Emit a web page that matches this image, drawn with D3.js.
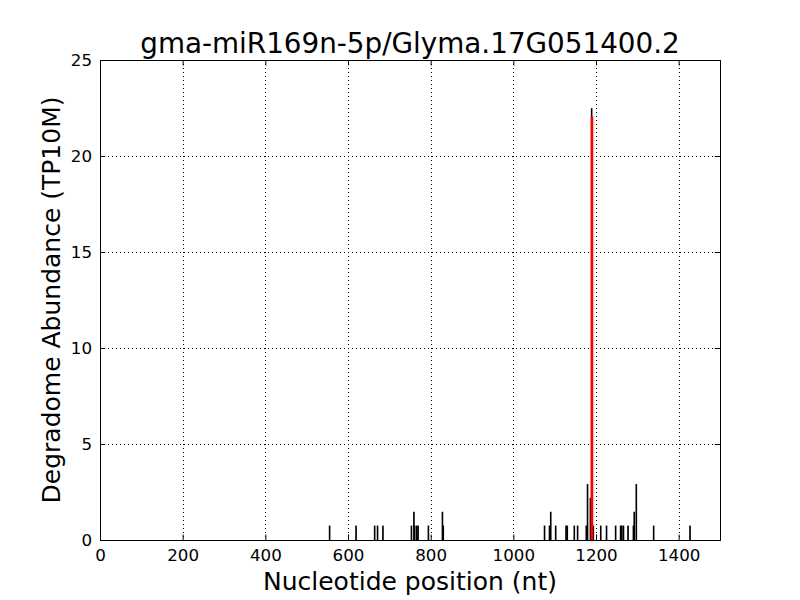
<!DOCTYPE html>
<html>
<head>
<meta charset="utf-8">
<script src="https://cdn.jsdelivr.net/npm/d3@7"></script>
<style>
  body { margin: 0; background: #fff; }
  svg { display: block; }
  text { font-family: "DejaVu Sans", sans-serif; fill: #000; }
</style>
</head>
<body>
<svg id="chart" width="800" height="600"></svg>
<script>
const title = "gma-miR169n-5p/Glyma.17G051400.2";
const xLabel = "Nucleotide position (nt)";
const yLabel = "Degradome Abundance (TP10M)";
const xTicks = [0, 200, 400, 600, 800, 1000, 1200, 1400];
const yTicks = [0, 5, 10, 15, 20, 25];

// black bars: positions and abundances
const positions = [555, 619, 664, 671, 684, 753, 759, 761, 766, 769, 794, 828, 830,
  1075, 1087, 1090, 1102, 1127, 1130, 1147, 1155, 1176, 1179, 1186, 1189, 1193,
  1211, 1225, 1247, 1259, 1262, 1266, 1277, 1290, 1292, 1297, 1339, 1427];
const abundances = [0.72, 0.72, 0.72, 0.72, 0.72, 0.72, 1.44, 0.72, 0.72, 0.72, 0.72, 1.44, 0.72,
  0.72, 0.72, 1.44, 0.72, 0.72, 0.72, 0.72, 0.72, 0.72, 2.88, 2.16, 22.46, 0.72,
  0.72, 0.72, 0.72, 0.72, 0.72, 0.72, 0.72, 0.72, 1.44, 2.88, 0.72, 0.72];
// highlighted cleavage site
const sitePositions = [1189];
const siteAbundances = [22.0];

const svg = d3.select("#chart");
const m = { left: 100, top: 60, right: 720, bottom: 540 };
const x = d3.scaleLinear().domain([0, 1500]).range([m.left, m.right]);
const y = d3.scaleLinear().domain([0, 25]).range([m.bottom, m.top]);

// grid
const grid = svg.append("g");
grid.selectAll("line.gx").data(xTicks.slice(1)).enter().append("line")
  .attr("x1", d => Math.round(x(d)) + 0.5).attr("x2", d => Math.round(x(d)) + 0.5)
  .attr("y1", m.top).attr("y2", m.bottom)
  .attr("stroke", "#000").attr("stroke-width", 1).attr("stroke-dasharray", "1,3");
grid.selectAll("line.gy").data(yTicks.slice(1, -1)).enter().append("line")
  .attr("y1", d => Math.round(y(d)) + 0.5).attr("y2", d => Math.round(y(d)) + 0.5)
  .attr("x1", m.left).attr("x2", m.right)
  .attr("stroke", "#000").attr("stroke-width", 1).attr("stroke-dasharray", "1,3");

// bars
const bars = positions.map((p, i) => ({ p, v: abundances[i] }));
svg.append("g").selectAll("rect").data(bars).enter().append("rect")
  .attr("x", d => x(d.p))
  .attr("width", d => x(d.p + 1) - x(d.p))
  .attr("y", d => y(d.v))
  .attr("height", d => y(0) - y(d.v))
  .attr("fill", "#000").attr("stroke", "#000").attr("stroke-width", 1.2);

const site = sitePositions.map((p, i) => ({ p, v: siteAbundances[i] }));
svg.append("g").selectAll("rect").data(site).enter().append("rect")
  .attr("x", d => x(d.p) + 0.3)
  .attr("width", d => x(d.p + 1) - x(d.p))
  .attr("y", d => y(d.v))
  .attr("height", d => y(0) - y(d.v))
  .attr("fill", "#ff0000").attr("stroke", "#ff0000").attr("stroke-width", 2.2);

// axes with inward ticks on all sides
const tl = 5.5;
const gBottom = svg.append("g").attr("transform", `translate(0,${m.bottom})`)
  .call(d3.axisBottom(x).tickValues(xTicks).tickFormat(d3.format("d")).tickSizeInner(-tl).tickSizeOuter(0).tickPadding(9));
const gTop = svg.append("g").attr("transform", `translate(0,${m.top})`)
  .call(d3.axisTop(x).tickValues(xTicks).tickSizeInner(-tl).tickSizeOuter(0).tickFormat(""));
const gLeft = svg.append("g").attr("transform", `translate(${m.left},0)`)
  .call(d3.axisLeft(y).tickValues(yTicks).tickFormat(d3.format("d")).tickSizeInner(-tl).tickSizeOuter(0).tickPadding(8));
const gRight = svg.append("g").attr("transform", `translate(${m.right},0)`)
  .call(d3.axisRight(y).tickValues(yTicks).tickSizeInner(-tl).tickSizeOuter(0).tickFormat(""));
[gBottom, gTop, gLeft, gRight].forEach(g => {
  g.select(".domain").remove();
  g.selectAll("line").attr("stroke", "#000");
  g.selectAll("text").attr("font-family", "DejaVu Sans").attr("font-size", "16.7px").attr("fill", "#000");
});

// frame
svg.append("rect").attr("x", m.left + 0.5).attr("y", m.top + 0.5)
  .attr("width", m.right - m.left).attr("height", m.bottom - m.top)
  .attr("fill", "none").attr("stroke", "#000").attr("stroke-width", 1);

// texts
svg.append("text").attr("x", (m.left + m.right) / 2).attr("y", 53)
  .attr("text-anchor", "middle").attr("font-size", "27.8px").text(title);
svg.append("text").attr("x", (m.left + m.right) / 2).attr("y", 590)
  .attr("text-anchor", "middle").attr("font-size", "25px").text(xLabel);
svg.append("text").attr("transform", `translate(60,${(m.top + m.bottom) / 2}) rotate(-90)`)
  .attr("text-anchor", "middle").attr("font-size", "25px").text(yLabel);
</script>
</body>
</html>
